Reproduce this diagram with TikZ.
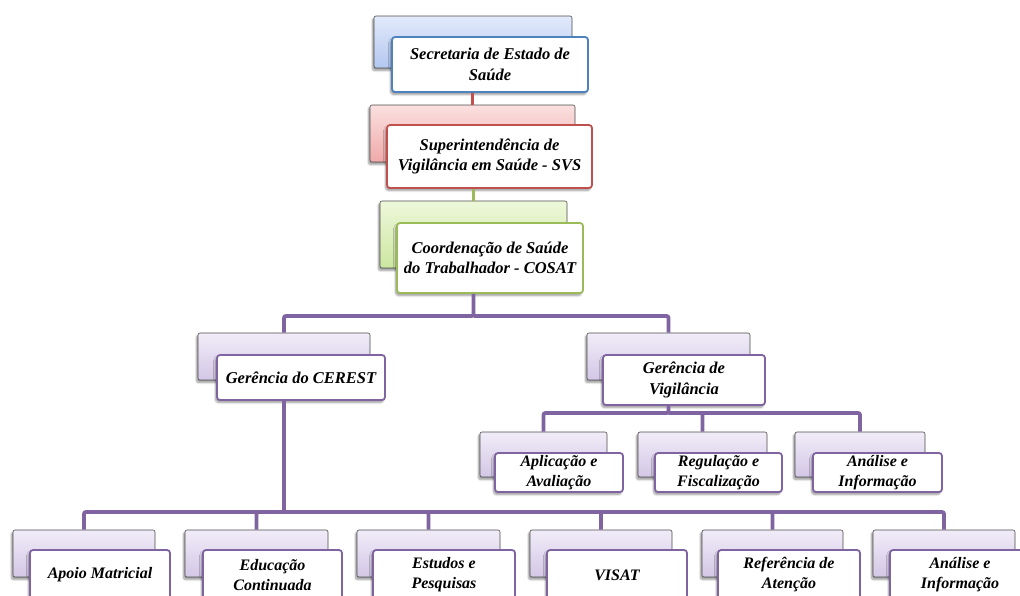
\documentclass[tikz,border=0pt]{standalone}
\usepackage{fontspec}
\setmainfont{Liberation Serif}
\usetikzlibrary{shadows.blur}
\definecolor{cblue}{HTML}{4F81BD}
\definecolor{cred}{HTML}{C0504D}
\definecolor{cgreen}{HTML}{9BBB59}
\definecolor{cpurple}{HTML}{8064A2}
\definecolor{blueT}{HTML}{E2EAFB}
\definecolor{blueB}{HTML}{B3C7F0}
\definecolor{redT}{HTML}{FBE0E0}
\definecolor{redB}{HTML}{F0A9A9}
\definecolor{greenT}{HTML}{EEF8DA}
\definecolor{greenB}{HTML}{CCE6A0}
\definecolor{purT}{HTML}{F1ECF8}
\definecolor{purB}{HTML}{D3C7E6}
\begin{document}
\begin{tikzpicture}[x=1pt,y=-1pt,
  shd/.style={blur shadow={shadow xshift=-1.5pt, shadow yshift=-2.5pt, shadow opacity=40, shadow blur steps=6}},
  backbox/.style 2 args={draw=gray!60!black, line width=0.6pt, rounded corners=2pt, top color=#1, bottom color=#2, shd, inner sep=0pt},
  frontbox/.style={draw=#1, line width=1.8pt, fill=white, rounded corners=3pt, shd, align=center, inner sep=0pt,
    font=\bfseries\itshape\fontsize{16.5}{20.5}\selectfont},
  small/.style={font=\bfseries\itshape\fontsize{16}{20}\selectfont},
  conn/.style={draw=#1, line width=3.8pt, rounded corners=2pt}]
\useasboundingbox (0,0) rectangle (1020,595);
\clip (0,0) rectangle (1020,595);
% level 1
\node[backbox={blueT}{blueB}, minimum width=198pt, minimum height=52pt] (b1) at (473,42) {};
\node[frontbox=cblue, minimum width=196pt, minimum height=55pt] (f1) at (490,64.5) {Secretaria de Estado de\\Saúde};
% level 2
\node[backbox={redT}{redB}, minimum width=205pt, minimum height=57pt] (b2) at (472.5,133.5) {};
\node[frontbox=cred, minimum width=205pt, minimum height=63pt] (f2) at (489.5,156.5) {Superintendência de\\Vigilância em Saúde - SVS};
% level 3
\node[backbox={greenT}{greenB}, minimum width=187pt, minimum height=67pt] (b3) at (473.5,234.5) {};
\node[frontbox=cgreen, minimum width=186pt, minimum height=70pt] (f3) at (490,258) {Coordenação de Saúde\\do Trabalhador - COSAT};
% level 4
\node[backbox={purT}{purB}, minimum width=172pt, minimum height=47pt] (bcer) at (284,356.5) {};
\node[frontbox=cpurple, minimum width=168pt, minimum height=45pt] (fcer) at (301,377.5) {Gerência do CEREST};
\node[backbox={purT}{purB}, minimum width=163pt, minimum height=47pt] (bvig) at (668.5,356.5) {};
\node[frontbox=cpurple, minimum width=162pt, minimum height=50pt] (fvig) at (684,380) {Gerência de\\Vigilância};
% level 5 (vigilancia)
\node[backbox={purT}{purB}, minimum width=127pt, minimum height=45pt] (bapl) at (543.5,454.5) {};
\node[frontbox=cpurple, small, minimum width=128pt, minimum height=39pt] (fapl) at (559,472.5) {Aplicação e\\Avaliação};
\node[backbox={purT}{purB}, minimum width=129pt, minimum height=45pt] (breg) at (702.5,454.5) {};
\node[frontbox=cpurple, small, minimum width=127pt, minimum height=39pt] (freg) at (718.5,472.5) {Regulação e\\Fiscalização};
\node[backbox={purT}{purB}, minimum width=130pt, minimum height=45pt] (bana) at (860,454.5) {};
\node[frontbox=cpurple, small, minimum width=129pt, minimum height=39pt] (fana) at (877.5,472.5) {Análise e\\Informação};
% level 6 (cerest)
\node[backbox={purT}{purB}, minimum width=142pt, minimum height=47pt] (bapo) at (84,553.5) {};
\node[frontbox=cpurple, small, minimum width=140pt, minimum height=50pt] (fapo) at (100,575) {Apoio Matricial};
\node[backbox={purT}{purB}, minimum width=143pt, minimum height=47pt] (bedu) at (256.5,553.5) {};
\node[frontbox=cpurple, small, minimum width=139pt, minimum height=50pt] (fedu) at (272.5,575) {Educação\\Continuada};
\node[backbox={purT}{purB}, minimum width=143pt, minimum height=47pt] (best) at (428.5,553.5) {};
\node[frontbox=cpurple, small, minimum width=142pt, minimum height=50pt] (fest) at (444,575) {Estudos e\\Pesquisas};
\node[backbox={purT}{purB}, minimum width=142pt, minimum height=47pt] (bvis) at (601,553.5) {};
\node[frontbox=cpurple, small, minimum width=140pt, minimum height=50pt] (fvis) at (617,575) {VISAT};
\node[backbox={purT}{purB}, minimum width=141pt, minimum height=47pt] (bref) at (772.5,553.5) {};
\node[frontbox=cpurple, small, minimum width=142pt, minimum height=50pt] (fref) at (789,575) {Referência de\\Atenção};
\node[backbox={purT}{purB}, minimum width=142pt, minimum height=47pt] (ban2) at (944,553.5) {};
\node[frontbox=cpurple, small, minimum width=140pt, minimum height=50pt] (fan2) at (960,575) {Análise e\\Informação};
% connectors
\draw[conn=cred] (b2.north |- f1.south) -- (b2.north);
\draw[conn=cgreen] (b3.north |- f2.south) -- (b3.north);
\coordinate (j1) at (b3.center |- 0,316);
\draw[conn=cpurple] (b3.center |- f3.south) -- (j1) -| (bcer.north);
\draw[conn=cpurple] (j1) -| (bvig.north);
\coordinate (j2) at (bvig.center |- 0,413);
\draw[conn=cpurple] (bvig.center |- fvig.south) -- (j2) -| (bapl.north);
\draw[conn=cpurple] (j2) -| (breg.north);
\draw[conn=cpurple] (j2) -| (bana.north);
\coordinate (j3) at (bcer.center |- 0,512);
\draw[conn=cpurple] (bcer.center |- fcer.south) -- (j3) -| (bapo.north);
\draw[conn=cpurple] (j3) -| (bedu.north);
\draw[conn=cpurple] (j3) -| (best.north);
\draw[conn=cpurple] (j3) -| (bvis.north);
\draw[conn=cpurple] (j3) -| (bref.north);
\draw[conn=cpurple] (j3) -| (ban2.north);
\end{tikzpicture}
\end{document}
